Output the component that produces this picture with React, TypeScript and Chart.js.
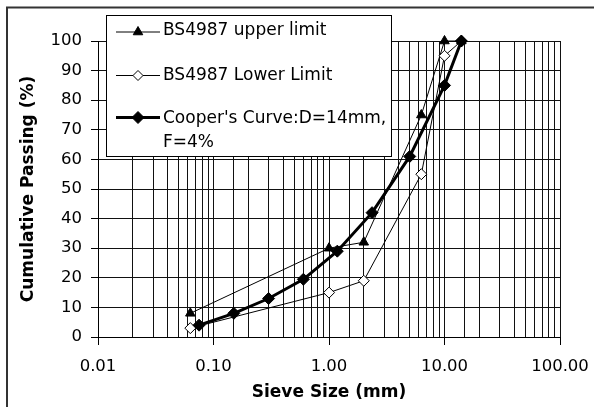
import React, { useEffect, useRef } from 'react';
import { Chart, registerables } from 'chart.js';

Chart.register(...registerables);

// ---- data ----
const upperSizes = [0.063, 1.0, 2.0, 6.3, 10, 14];
const upperPassing = [8, 30, 32, 75, 100, 100];
const lowerSizes = [0.063, 1.0, 2.0, 6.3, 10, 14];
const lowerPassing = [3, 15, 19, 55, 95, 100];
const cooperSizes = [0.075, 0.15, 0.3, 0.6, 1.18, 2.36, 5, 10, 14];
const cooperPassing = [4, 8, 13, 19.5, 29, 42, 61, 85, 100];

const upperName = ['BS4987 upper limit'];
const lowerName = ['BS4987 Lower Limit'];
const cooperName = ["Cooper's Curve:D=14mm,", 'F=4%'];

const xTitle = 'Sieve Size (mm)';
const yTitle = 'Cumulative Passing (%)';
const xMin = 0.01;
const xMax = 100;
const yMin = 0;
const yMax = 100;
const yStep = 10;

const FONT = "'DejaVu Sans', sans-serif";

const isDecade = (v: number) => Math.abs(Math.log10(v) - Math.round(Math.log10(v))) < 1e-9;

function drawMarker(ctx: CanvasRenderingContext2D, style: string, x: number, y: number, r: number, fill: string) {
  ctx.save();
  ctx.beginPath();
  if (style === 'triangle') {
    for (let i = 0; i < 3; i++) {
      const a = (i * 2 * Math.PI) / 3;
      const px = x + Math.sin(a) * r;
      const py = y - Math.cos(a) * r;
      if (i === 0) ctx.moveTo(px, py);
      else ctx.lineTo(px, py);
    }
  } else {
    ctx.moveTo(x, y - r);
    ctx.lineTo(x + r, y);
    ctx.lineTo(x, y + r);
    ctx.lineTo(x - r, y);
  }
  ctx.closePath();
  ctx.fillStyle = fill;
  ctx.fill();
  ctx.lineWidth = 1;
  ctx.strokeStyle = '#000';
  ctx.stroke();
  ctx.restore();
}

const framePlugin = {
  id: 'frame',
  beforeDraw(chart: any) {
    const ctx = chart.ctx as CanvasRenderingContext2D;
    ctx.save();
    ctx.strokeStyle = '#333';
    ctx.lineWidth = 2;
    ctx.strokeRect(7, 7.5, 700, 500);
    ctx.restore();
  },
};

const legendPlugin = {
  id: 'customLegend',
  afterDraw(chart: any) {
    const ctx = chart.ctx as CanvasRenderingContext2D;
    ctx.save();
    ctx.fillStyle = '#fff';
    ctx.fillRect(106, 15, 286, 142);
    ctx.strokeStyle = '#000';
    ctx.lineWidth = 1;
    ctx.strokeRect(106.5, 15.5, 285, 141);

    const items = [
      { lines: upperName, lineY: 32, textY: 35, marker: 'triangle', r: 5.5, fill: '#000', lw: 1 },
      { lines: lowerName, lineY: 75.5, textY: 79.5, marker: 'diamond', r: 5, fill: '#fff', lw: 1 },
      { lines: cooperName, lineY: 117.5, textY: 122.5, marker: 'diamond', r: 6, fill: '#000', lw: 3 },
    ];
    ctx.font = `17px ${FONT}`;
    ctx.textBaseline = 'alphabetic';
    ctx.textAlign = 'left';
    for (const it of items) {
      ctx.beginPath();
      ctx.strokeStyle = '#000';
      ctx.lineWidth = it.lw;
      ctx.moveTo(116, it.lineY);
      ctx.lineTo(160, it.lineY);
      ctx.stroke();
      drawMarker(ctx, it.marker, 138, it.lineY, it.r, it.fill);
      ctx.fillStyle = '#000';
      it.lines.forEach((t, i) => ctx.fillText(t, 163, it.textY + i * 24.7));
    }
    ctx.restore();
  },
};

export default function App() {
  const ref = useRef<HTMLCanvasElement>(null);

  useEffect(() => {
    if (!ref.current) return;
    const toPts = (xs: number[], ys: number[]) => xs.map((x, i) => ({ x, y: ys[i] }));
    const zeroPad = (s: any) => {
      s.paddingLeft = 0;
      s.paddingRight = 0;
      s.paddingTop = 0;
      s.paddingBottom = 0;
    };
    const chart = new Chart(ref.current, {
      type: 'line',
      data: {
        datasets: [
          {
            label: upperName.join(' '),
            data: toPts(upperSizes, upperPassing),
            borderColor: '#000',
            borderWidth: 1,
            backgroundColor: '#000',
            pointStyle: 'triangle',
            pointRadius: 5.5,
            pointBorderWidth: 1,
            pointBorderColor: '#000',
            pointBackgroundColor: '#000',
            tension: 0,
            clip: false,
            order: 2,
          },
          {
            label: lowerName.join(' '),
            data: toPts(lowerSizes, lowerPassing),
            borderColor: '#000',
            borderWidth: 1,
            backgroundColor: '#fff',
            pointStyle: 'rectRot',
            pointRadius: 5.5,
            pointBorderWidth: 1,
            pointBorderColor: '#000',
            pointBackgroundColor: '#fff',
            tension: 0,
            clip: false,
            order: 1,
          },
          {
            label: cooperName.join(' '),
            data: toPts(cooperSizes, cooperPassing),
            borderColor: '#000',
            borderWidth: 3,
            backgroundColor: '#000',
            pointStyle: 'rectRot',
            pointRadius: 6,
            pointBorderWidth: 1,
            pointBorderColor: '#000',
            pointBackgroundColor: '#000',
            tension: 0,
            clip: false,
            order: 0,
          },
        ],
      },
      options: {
        responsive: false,
        animation: false,
        layout: { padding: { left: 8, top: 41, right: 34, bottom: 0 } },
        plugins: {
          legend: { display: false },
          tooltip: { enabled: false },
        },
        scales: {
          x: {
            type: 'logarithmic',
            min: xMin,
            max: xMax,
            afterFit: (s: any) => {
              s.height = 70;
              zeroPad(s);
            },
            border: { color: '#000', width: 1 },
            grid: {
              color: '#111',
              lineWidth: 1,
              tickLength: 8,
              tickColor: (c: any) => (c.tick && isDecade(c.tick.value) ? '#000' : 'rgba(0,0,0,0)'),
            },
            ticks: {
              autoSkip: false,
              maxRotation: 0,
              minRotation: 0,
              padding: 11.5,
              color: '#000',
              font: { family: FONT, size: 16.5 },
              callback: (v: any) => {
                const n = Number(v);
                return isDecade(n) ? n.toFixed(2) : '';
              },
            },
            title: {
              display: true,
              text: xTitle,
              color: '#000',
              font: { family: FONT, size: 17, weight: 'bold' },
              padding: { top: 0, bottom: 4 },
            },
          },
          y: {
            type: 'linear',
            min: yMin,
            max: yMax,
            afterFit: (s: any) => {
              s.width = 90;
              zeroPad(s);
            },
            border: { color: '#000', width: 1 },
            grid: { color: '#111', lineWidth: 1, tickLength: 7, tickColor: '#000' },
            ticks: {
              stepSize: yStep,
              padding: 9,
              color: '#000',
              font: { family: FONT, size: 16.5 },
            },
            title: {
              display: true,
              text: yTitle,
              color: '#000',
              font: { family: FONT, size: 17, weight: 'bold' },
              padding: { top: 10.6, bottom: 0 },
            },
          },
        },
      },
      plugins: [framePlugin, legendPlugin],
    } as any);
    return () => chart.destroy();
  }, []);

  return (
    <div style={{ position: 'absolute', left: 0, top: 0, width: 594, height: 407 }}>
      <canvas ref={ref} width={594} height={407} style={{ display: 'block' }} />
    </div>
  );
}
